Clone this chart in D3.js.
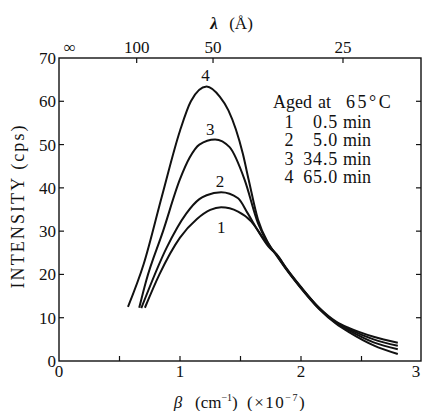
<!DOCTYPE html>
<html><head><meta charset="utf-8">
<script src="https://cdn.jsdelivr.net/npm/d3@7"></script>
<style>body{margin:0;background:#fff}svg{display:block}text{font-family:"Liberation Serif","Times New Roman","DejaVu Serif",serif;fill:#111}</style>
</head><body><svg id="c" width="423" height="411"></svg>
<script>
// ---- data ----
const yTicks = [0,10,20,30,40,50,60,70];
const xTicks = [0,1,2,3];
const xMinorTicks = [0.5,1,1.5,2,2.5];
const topLabels = ["∞","100","50","25"];
const topBeta = [0.09, 0.642, 1.273, 2.347];
const curve1 = [[0.71,12.3],[0.83,20],[1.0,28.5],[1.14,32.8],[1.25,34.9],[1.34,35.5],[1.48,34.5],[1.59,32.2],[1.67,29.1],[1.755,25.9],[1.80,24.6],[1.88,21.4],[2.0,17.1],[2.15,12.3],[2.29,9.1],[2.40,7.6],[2.60,5.6],[2.80,4.2]];
const curve2 = [[0.68,12.2],[0.89,26.2],[1.05,34],[1.16,37.4],[1.22,38.3],[1.34,39.0],[1.48,37.6],[1.56,34.1],[1.64,30.3],[1.73,26.5],[1.80,24.5],[1.88,21.3],[2.0,17.0],[2.15,12.2],[2.29,8.9],[2.40,7.3],[2.60,5.0],[2.80,3.5]];
const curve3 = [[0.663,12.3],[0.72,18.5],[0.86,30],[1.0,42],[1.08,47],[1.16,50],[1.29,51.2],[1.41,49.4],[1.535,41.8],[1.645,31.8],[1.73,27.1],[1.80,24.4],[1.88,21.2],[2.0,16.9],[2.15,12.1],[2.29,8.8],[2.40,7.0],[2.60,4.3],[2.80,2.7]];
const curve4 = [[0.57,12.5],[0.70,22.4],[0.85,38],[1.0,53.2],[1.09,60],[1.22,63.4],[1.33,61],[1.40,57.9],[1.52,47.8],[1.568,41.8],[1.645,32.6],[1.73,27.2],[1.80,24.3],[1.88,21.1],[2.0,16.8],[2.15,12.0],[2.29,8.6],[2.40,6.6],[2.60,3.6],[2.80,1.6]];
const curves = [curve1, curve2, curve3, curve4];
const curveLabels = ["1","2","3","4"];
const curveLabelPos = [[1.34,31.0],[1.33,41.6],[1.25,53.6],[1.21,66.0]];
const legendWords = ["Aged","at","65°C"];
const legendNums = ["1","2","3","4"];
const legendTimes = ["0.5","5.0","34.5","65.0"];

// ---- chart ----
const svg = d3.select("#c");
const x = d3.scaleLinear().domain([0,3]).range([59,422]);
const y = d3.scaleLinear().domain([0,70]).range([361,58]);
const FS = 17;

const g = svg.append("g");
g.append("rect").attr("x",x(0)).attr("y",y(70)).attr("width",x(3)-x(0)-1).attr("height",y(0)-y(70))
 .attr("fill","none").attr("stroke","#111").attr("stroke-width",1.4);

const tl = 5;
g.selectAll(".lt").data(yTicks.slice(1,7)).join("line")
 .attr("x1",x(0)).attr("x2",x(0)+tl).attr("y1",d=>y(d)).attr("y2",d=>y(d)).attr("stroke","#111").attr("stroke-width",1.2);
g.selectAll(".rt").data(yTicks.slice(1,7)).join("line")
 .attr("x1",x(3)-1).attr("x2",x(3)-1-tl).attr("y1",d=>y(d)).attr("y2",d=>y(d)).attr("stroke","#111").attr("stroke-width",1.2);
g.selectAll(".bt").data(xMinorTicks).join("line")
 .attr("x1",d=>x(d)).attr("x2",d=>x(d)).attr("y1",y(0)).attr("y2",y(0)-tl).attr("stroke","#111").attr("stroke-width",1.2);
g.selectAll(".tt").data(topBeta.slice(1)).join("line")
 .attr("x1",d=>x(d)).attr("x2",d=>x(d)).attr("y1",y(70)).attr("y2",y(70)+tl).attr("stroke","#111").attr("stroke-width",1.2);

g.selectAll(".yl").data(yTicks).join("text")
 .attr("x",56).attr("y",d=>y(d)).attr("dy","0.35em").attr("text-anchor","end")
 .attr("font-size",FS).text(d=>d);
g.selectAll(".xl").data(xTicks).join("text")
 .attr("x",d=>Math.min(x(d),416)).attr("y",377).attr("text-anchor","middle")
 .attr("font-size",FS).text(d=>d);
g.selectAll(".tl").data(topLabels).join("text")
 .attr("x",(d,i)=>x(topBeta[i])).attr("y",53).attr("text-anchor","middle")
 .attr("font-size",FS).text(d=>d);

// axis titles
g.append("text").attr("x",214).attr("y",29).attr("text-anchor","middle").attr("font-size",FS)
 .attr("font-weight","bold").attr("font-style","italic").text("λ");
g.append("text").attr("x",241).attr("y",29).attr("text-anchor","middle").attr("font-size",FS).text("(Å)");

g.append("text").attr("x",178).attr("y",408).attr("text-anchor","middle").attr("font-size",FS)
 .attr("font-style","italic").text("β");
const xt1 = g.append("text").attr("x",195).attr("y",408).attr("font-size",FS);
xt1.append("tspan").text("(cm");
xt1.append("tspan").attr("font-size",10).attr("dy",-7).text("−1");
xt1.append("tspan").attr("dy",7).text(")");
const xt2 = g.append("text").attr("x",247).attr("y",408).attr("font-size",FS).attr("letter-spacing",1.5);
xt2.append("tspan").text("(×10");
xt2.append("tspan").attr("font-size",10).attr("dy",-7).text("−7");
xt2.append("tspan").attr("dy",7).text(")");

g.append("text").attr("transform","translate(24,207) rotate(-90)").attr("text-anchor","middle")
 .attr("font-size",18).attr("textLength",163).attr("lengthAdjust","spacing").text("INTENSITY (cps)");

// curves
const line = d3.line().x(d=>x(d[0])).y(d=>y(d[1])).curve(d3.curveMonotoneX);
g.selectAll(".crv").data(curves).join("path")
 .attr("d",line).attr("fill","none").attr("stroke","#111").attr("stroke-width",2);

g.selectAll(".cl").data(curveLabels).join("text")
 .attr("x",(d,i)=>x(curveLabelPos[i][0])).attr("y",(d,i)=>y(curveLabelPos[i][1])).attr("dy","0.35em")
 .attr("text-anchor","middle").attr("font-size",FS).text(d=>d);

// legend
const wordX = [273, 318, 346];
legendWords.forEach((w,i)=>{
  g.append("text").attr("x",wordX[i]).attr("y",108).attr("font-size",18)
   .attr("letter-spacing", i===2 ? 2.5 : 0).text(w);
});
legendNums.forEach((n,i)=>{
  const yy = 127.5 + i*18.5;
  g.append("text").attr("x",289).attr("y",yy).attr("text-anchor","middle").attr("font-size",18).text(n);
  g.append("text").attr("x",338).attr("y",yy).attr("text-anchor","end").attr("font-size",18)
   .attr("letter-spacing",0.8).text(legendTimes[i]);
  g.append("text").attr("x",343).attr("y",yy).attr("font-size",18).text("min");
});
</script></body></html>
